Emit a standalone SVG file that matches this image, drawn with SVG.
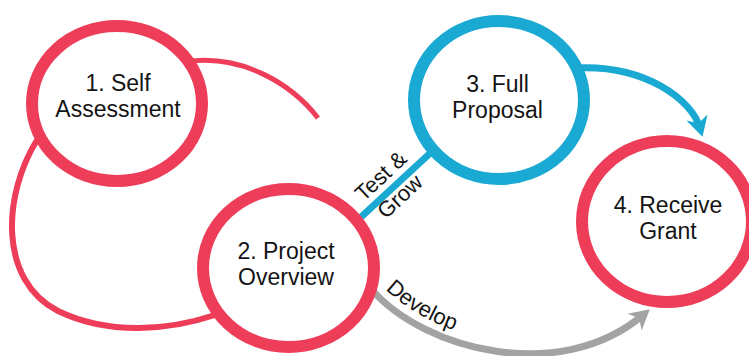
<svg xmlns="http://www.w3.org/2000/svg" width="749" height="356" viewBox="0 0 749 356">
<style>
.ring{fill:#ffffff;stroke-width:12}
.red{stroke:#EE3D59}
.blue{stroke:#19A9D3}
.lbl{font-family:"Liberation Sans",Arial,sans-serif;font-size:23px;fill:#141414;text-anchor:middle}
.edge{font-family:"Liberation Sans",Arial,sans-serif;font-size:22px;fill:#141414}
.conn{fill:none}
</style>
<defs>
<marker id="arrBlue" markerUnits="userSpaceOnUse" orient="auto" refX="0" refY="0" markerWidth="30" markerHeight="30" overflow="visible">
<path d="M9,0 L-11,-11 L-5,0 L-11,11 Z" fill="#19A9D3"/>
</marker>
<marker id="arrGray" markerUnits="userSpaceOnUse" orient="auto" refX="0" refY="0" markerWidth="30" markerHeight="30" overflow="visible">
<path d="M9,0 L-11,-11 L-5,0 L-11,11 Z" fill="#A3A3A3"/>
</marker>
<path id="devPath" d="M379,283 C 431,340 557,373 636,307"/>
</defs>
<rect width="749" height="356" fill="#ffffff"/>
<g id="connectors">
<path class="conn" d="M192,61 C 242,56 290,82 318,118" stroke="#EE3D59" stroke-width="5"/>
<path class="conn" d="M37,140 C 3,195 -2,280 58,311 C 110,336 170,330 215,315" stroke="#EE3D59" stroke-width="6"/>
<line x1="347" y1="230" x2="439" y2="145" stroke="#19A9D3" stroke-width="7"/>
<path class="conn" d="M575,68 C 645,64 692,100 700,128" stroke="#19A9D3" stroke-width="7" marker-end="url(#arrBlue)"/>
<path class="conn" d="M372,290 C 425,350 560,385 643,315" stroke="#A3A3A3" stroke-width="7" marker-end="url(#arrGray)"/>
<g transform="translate(392,188) rotate(-43)">
<text class="edge" x="0" y="-9" text-anchor="middle">Test &amp;</text>
<text class="edge" x="0" y="19" text-anchor="middle">Grow</text>
</g>
<text class="edge" font-size="24"><textPath href="#devPath" startOffset="9">Develop</textPath></text>
</g>
<g id="node1">
<ellipse class="ring red" cx="117" cy="103.5" rx="85" ry="77.5"/>
<text class="lbl" x="118" y="91">1. Self</text>
<text class="lbl" x="118" y="117">Assessment</text>
</g>
<g id="node2">
<ellipse class="ring red" cx="288.5" cy="268" rx="85.5" ry="79"/>
<text class="lbl" x="286" y="259">2. Project</text>
<text class="lbl" x="286" y="285">Overview</text>
</g>
<g id="node3">
<ellipse class="ring blue" cx="499" cy="100" rx="85" ry="79"/>
<text class="lbl" x="497.5" y="92">3. Full</text>
<text class="lbl" x="497.5" y="118">Proposal</text>
</g>
<g id="node4">
<ellipse class="ring red" cx="667" cy="221.5" rx="85" ry="80.5"/>
<text class="lbl" x="668" y="213">4. Receive</text>
<text class="lbl" x="668" y="239">Grant</text>
</g>
</svg>
